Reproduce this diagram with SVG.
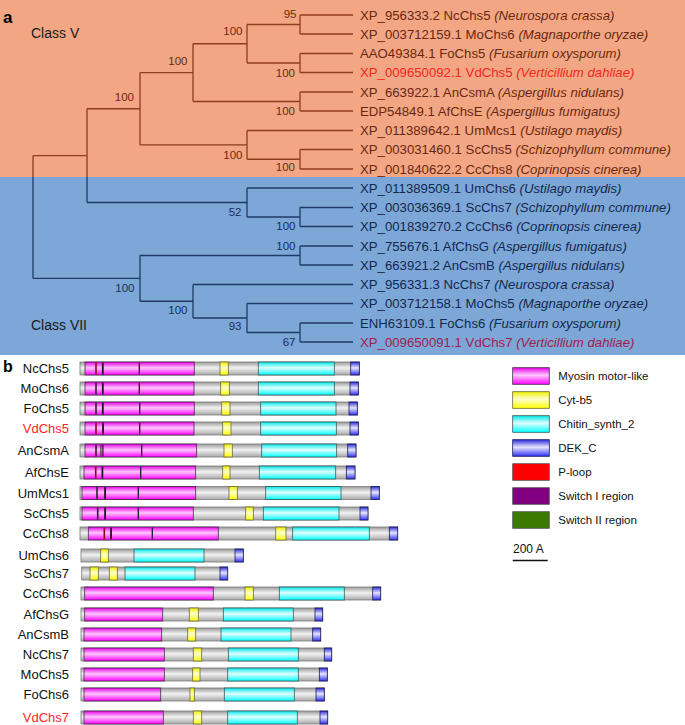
<svg xmlns="http://www.w3.org/2000/svg" width="685" height="725" viewBox="0 0 685 725">
<style>
text{font-family:"Liberation Sans",Arial,sans-serif}
.lo{fill:none;stroke:#8E3D1F;stroke-width:1.3}
.lb{fill:none;stroke:#1F3B6B;stroke-width:1.3}
.leafo{font-size:13.2px;fill:#6B2810}
.leafb{font-size:13.2px;fill:#14284F}
.bso{font-size:11.5px;fill:#6B2A12;text-anchor:end}
.bsb{font-size:11.5px;fill:#1A2E55;text-anchor:end}
.cls{font-size:14px;fill:#1a1a1a}
.pl{font-weight:bold;fill:#000}
.rl{font-size:13px;fill:#111;text-anchor:end}
.red{fill:#FF1E1E}
.g{fill:url(#gg);stroke:#7a7a7a;stroke-width:0.8}
.m{fill:url(#gm);stroke:#4a2a4a;stroke-width:0.8}
.y{fill:url(#gy);stroke:#6a6a30;stroke-width:0.8}
.c{fill:url(#gc);stroke:#3a5a5a;stroke-width:0.8}
.b{fill:url(#gb);stroke:#1a1a5a;stroke-width:0.8}
.s1{fill:#8A0A1E}
.s2{fill:#2A0A2A}
.s3{fill:#3A1A3A}
.lt{font-size:11.5px;fill:#111}
</style>
<defs>
<linearGradient id="gg" x1="0" y1="0" x2="0" y2="1"><stop offset="0" stop-color="#9a9a9a"/><stop offset="0.45" stop-color="#f2f2f2"/><stop offset="1" stop-color="#a8a8a8"/></linearGradient>
<linearGradient id="gm" x1="0" y1="0" x2="0" y2="1"><stop offset="0" stop-color="#e800e8"/><stop offset="0.45" stop-color="#ffc8ff"/><stop offset="1" stop-color="#ff00ff"/></linearGradient>
<linearGradient id="gy" x1="0" y1="0" x2="0" y2="1"><stop offset="0" stop-color="#f0f000"/><stop offset="0.45" stop-color="#ffffd0"/><stop offset="1" stop-color="#ffff00"/></linearGradient>
<linearGradient id="gc" x1="0" y1="0" x2="0" y2="1"><stop offset="0" stop-color="#00e8e8"/><stop offset="0.45" stop-color="#e0ffff"/><stop offset="1" stop-color="#00ffff"/></linearGradient>
<linearGradient id="gb" x1="0" y1="0" x2="0" y2="1"><stop offset="0" stop-color="#2a2ad8"/><stop offset="0.45" stop-color="#e6e6ff"/><stop offset="1" stop-color="#3030f0"/></linearGradient>
</defs>
<rect x="0" y="0" width="685" height="725" fill="#fff"/>
<rect x="0" y="0" width="685" height="177" fill="#F2A683"/>
<rect x="0" y="177" width="685" height="178" fill="#7CA7D7"/>
<text x="3" y="22.5" class="pl" font-size="17">a</text>
<text x="31" y="37.5" class="cls">Class V</text>
<text x="31" y="329.5" class="cls">Class VII</text>
<g id="connectors">
<path class="lo" d="M300,15V34M300,15H353M300,34H353M300,53.5V72.5M300,53.5H353M300,72.5H353M247,24.5V63M247,24.5H300M247,63H300M300,92V111M300,92H353M300,111H353M193,43.75V101.5M193,43.75H247M193,101.5H300M300,149.5V169M300,149.5H353M300,169H353M247,130.5V159.25M247,130.5H353M247,159.25H300M140,72.6V144.9M140,72.6H193M140,144.9H247M87,108.75V177M87,108.75H140M33,155.6V177M33,155.6H87"/>
<path class="lb" d="M87,177V202.5M87,202.5H247M33,177V278.4M33,278.4H140M247,188V217M247,188H353M247,217H300M300,207.5V226.5M300,207.5H353M300,226.5H353M140,255.5V301.25M140,255.5H300M140,301.25H193M300,246V265M300,246H353M300,265H353M193,284.5V318M193,284.5H353M193,318H247M247,303.5V332.5M247,303.5H353M247,332.5H300M300,323V342M300,323H353M300,342H353"/>
</g>
<g id="bootstrap">
<text class="bso" x="296.5" y="17.5">95</text>
<text class="bso" x="242.5" y="35">100</text>
<text class="bso" x="295" y="77">100</text>
<text class="bso" x="187.5" y="65">100</text>
<text class="bso" x="295" y="115">100</text>
<text class="bso" x="134" y="101">100</text>
<text class="bso" x="242.5" y="159">100</text>
<text class="bso" x="295" y="171">100</text>
<text class="bsb" x="241.5" y="216">52</text>
<text class="bsb" x="295.5" y="230">100</text>
<text class="bsb" x="295.5" y="250">100</text>
<text class="bsb" x="134.5" y="292">100</text>
<text class="bsb" x="187.5" y="314">100</text>
<text class="bsb" x="241.5" y="330">93</text>
<text class="bsb" x="295.5" y="346">67</text>
</g>
<g id="leaf-NcChs5"><text class="leafo" x="360" y="19.5">XP_956333.2 NcChs5 <tspan font-style="italic">(Neurospora crassa)</tspan></text></g>
<g id="leaf-MoChs6"><text class="leafo" x="360" y="38.5">XP_003712159.1 MoChs6 <tspan font-style="italic">(Magnaporthe oryzae)</tspan></text></g>
<g id="leaf-FoChs5"><text class="leafo" x="360" y="58">AAO49384.1 FoChs5 <tspan font-style="italic">(Fusarium oxysporum)</tspan></text></g>
<g id="leaf-VdChs5"><text class="leafo" x="360" y="77" style="fill:#F2281E">XP_009650092.1 VdChs5 <tspan font-style="italic">(Verticillium dahliae)</tspan></text></g>
<g id="leaf-AnCsmA"><text class="leafo" x="360" y="96.5">XP_663922.1 AnCsmA <tspan font-style="italic">(Aspergillus nidulans)</tspan></text></g>
<g id="leaf-AfChsE"><text class="leafo" x="360" y="115.5">EDP54849.1 AfChsE <tspan font-style="italic">(Aspergillus fumigatus)</tspan></text></g>
<g id="leaf-UmMcs1"><text class="leafo" x="360" y="135">XP_011389642.1 UmMcs1 <tspan font-style="italic">(Ustilago maydis)</tspan></text></g>
<g id="leaf-ScChs5"><text class="leafo" x="360" y="154">XP_003031460.1 ScChs5 <tspan font-style="italic">(Schizophyllum commune)</tspan></text></g>
<g id="leaf-CcChs8"><text class="leafo" x="360" y="173.5">XP_001840622.2 CcChs8 <tspan font-style="italic">(Coprinopsis cinerea)</tspan></text></g>
<g id="leaf-UmChs6"><text class="leafb" x="360" y="192.5">XP_011389509.1 UmChs6 <tspan font-style="italic">(Ustilago maydis)</tspan></text></g>
<g id="leaf-ScChs7"><text class="leafb" x="360" y="212">XP_003036369.1 ScChs7 <tspan font-style="italic">(Schizophyllum commune)</tspan></text></g>
<g id="leaf-CcChs6"><text class="leafb" x="360" y="231">XP_001839270.2 CcChs6 <tspan font-style="italic">(Coprinopsis cinerea)</tspan></text></g>
<g id="leaf-AfChsG"><text class="leafb" x="360" y="250.5">XP_755676.1 AfChsG <tspan font-style="italic">(Aspergillus fumigatus)</tspan></text></g>
<g id="leaf-AnCsmB"><text class="leafb" x="360" y="269.5">XP_663921.2 AnCsmB <tspan font-style="italic">(Aspergillus nidulans)</tspan></text></g>
<g id="leaf-NcChs7"><text class="leafb" x="360" y="289">XP_956331.3 NcChs7 <tspan font-style="italic">(Neurospora crassa)</tspan></text></g>
<g id="leaf-MoChs5"><text class="leafb" x="360" y="308">XP_003712158.1 MoChs5 <tspan font-style="italic">(Magnaporthe oryzae)</tspan></text></g>
<g id="leaf-FoChs6"><text class="leafb" x="360" y="327.5">ENH63109.1 FoChs6 <tspan font-style="italic">(Fusarium oxysporum)</tspan></text></g>
<g id="leaf-VdChs7"><text class="leafb" x="360" y="346.5" style="fill:#A01E50">XP_009650091.1 VdChs7 <tspan font-style="italic">(Verticillium dahliae)</tspan></text></g>

<text x="3" y="371.7" class="pl" font-size="16">b</text>

<g id="row-NcChs5"><text class="rl" x="69" y="373">NcChs5</text>
<rect class="g" x="80" y="362" width="279.3" height="13"/><rect class="m" x="85" y="362" width="109.3" height="13"/><rect class="y" x="220" y="362" width="8.3" height="13"/><rect class="c" x="258.3" y="362" width="76" height="13"/><rect class="b" x="350.7" y="362" width="8.6" height="13"/>
<rect class="s1" x="95.2" y="362.5" width="1.6" height="12"/><rect class="s2" x="101.9" y="362.5" width="1.8" height="12"/><rect class="s3" x="138.6" y="362.5" width="1.4" height="12"/></g>
<g id="row-MoChs6"><text class="rl" x="69" y="393">MoChs6</text>
<rect class="g" x="80" y="382" width="278.3" height="13"/><rect class="m" x="85" y="382" width="109" height="13"/><rect class="y" x="220.7" y="382" width="8.6" height="13"/><rect class="c" x="258.3" y="382" width="76" height="13"/><rect class="b" x="350" y="382" width="8.3" height="13"/>
<rect class="s3" x="95.2" y="382.5" width="1.6" height="12"/><rect class="s2" x="101.9" y="382.5" width="1.8" height="12"/><rect class="s3" x="138.6" y="382.5" width="1.4" height="12"/></g>
<g id="row-FoChs5"><text class="rl" x="69" y="413">FoChs5</text>
<rect class="g" x="80" y="402" width="277.3" height="13"/><rect class="m" x="85" y="402" width="109.3" height="13"/><rect class="y" x="221.7" y="402" width="8.3" height="13"/><rect class="c" x="260.7" y="402" width="75.3" height="13"/><rect class="b" x="349" y="402" width="8.3" height="13"/>
<rect class="s3" x="95.2" y="402.5" width="1.6" height="12"/><rect class="s2" x="101.9" y="402.5" width="1.8" height="12"/><rect class="s3" x="139" y="402.5" width="1.4" height="12"/></g>
<g id="row-VdChs5"><text class="rl red" x="69" y="433">VdChs5</text>
<rect class="g" x="80" y="422" width="278.3" height="13"/><rect class="m" x="85" y="422" width="109" height="13"/><rect class="y" x="222.7" y="422" width="8.3" height="13"/><rect class="c" x="260.7" y="422" width="75.6" height="13"/><rect class="b" x="350" y="422" width="8.3" height="13"/>
<rect class="s1" x="95.2" y="422.5" width="1.6" height="12"/><rect class="s2" x="102.1" y="422.5" width="1.8" height="12"/><rect class="s3" x="139" y="422.5" width="1.4" height="12"/></g>
<g id="row-AnCsmA"><text class="rl" x="69" y="455">AnCsmA</text>
<rect class="g" x="80" y="444" width="276" height="13"/><rect class="m" x="85" y="444" width="111.7" height="13"/><rect class="y" x="224" y="444" width="8.3" height="13"/><rect class="c" x="261.7" y="444" width="75" height="13"/><rect class="b" x="347.7" y="444" width="8.3" height="13"/>
<rect class="s3" x="95.2" y="444.5" width="1.6" height="12"/><rect class="s3" x="100.4" y="444.5" width="1" height="12"/><rect class="s2" x="102.3" y="444.5" width="1.2" height="12"/><rect class="s3" x="141" y="444.5" width="1.4" height="12"/></g>
<g id="row-AfChsE"><text class="rl" x="69" y="477">AfChsE</text>
<rect class="g" x="80" y="466" width="275" height="13"/><rect class="m" x="84" y="466" width="111.7" height="13"/><rect class="y" x="222.7" y="466" width="7.3" height="13"/><rect class="c" x="259.3" y="466" width="76.4" height="13"/><rect class="b" x="346.3" y="466" width="8.7" height="13"/>
<rect class="s1" x="94.9" y="466.5" width="1.6" height="12"/><rect class="s2" x="101.5" y="466.5" width="1.8" height="12"/><rect class="s3" x="140" y="466.5" width="1.4" height="12"/></g>
<g id="row-UmMcs1"><text class="rl" x="69" y="497.5">UmMcs1</text>
<rect class="g" x="80" y="486.5" width="299.3" height="13"/><rect class="m" x="82" y="486.5" width="113.7" height="13"/><rect class="y" x="229" y="486.5" width="8.3" height="13"/><rect class="c" x="265.7" y="486.5" width="75.3" height="13"/><rect class="b" x="371" y="486.5" width="8.3" height="13"/>
<rect class="s3" x="96.2" y="487" width="1.6" height="12"/><rect class="s2" x="104.2" y="487" width="1.8" height="12"/><rect class="s3" x="137.6" y="487" width="1.4" height="12"/></g>
<g id="row-ScChs5"><text class="rl" x="69" y="518">ScChs5</text>
<rect class="g" x="80" y="507" width="288" height="13"/><rect class="m" x="82" y="507" width="111.3" height="13"/><rect class="y" x="245.7" y="507" width="7.6" height="13"/><rect class="c" x="263.3" y="507" width="75.7" height="13"/><rect class="b" x="360" y="507" width="8" height="13"/>
<rect class="s3" x="96.9" y="507.5" width="1.6" height="12"/><rect class="s2" x="104.2" y="507.5" width="1.8" height="12"/><rect class="s3" x="137.6" y="507.5" width="1.4" height="12"/></g>
<g id="row-CcChs8"><text class="rl" x="69" y="538">CcChs8</text>
<rect class="g" x="80" y="527" width="317.7" height="13"/><rect class="m" x="88.3" y="527" width="130" height="13"/><rect class="y" x="275.7" y="527" width="10.3" height="13"/><rect class="c" x="292.7" y="527" width="76.6" height="13"/><rect class="b" x="389.3" y="527" width="8.4" height="13"/>
<rect class="s1" x="103.5" y="527.5" width="1.6" height="12"/><rect class="s2" x="110.1" y="527.5" width="1.8" height="12"/><rect class="s3" x="151.6" y="527.5" width="1.4" height="12"/></g>
<g id="row-UmChs6"><text class="rl" x="69" y="560">UmChs6</text>
<rect class="g" x="81" y="549" width="162.3" height="13"/><rect class="y" x="100.7" y="549" width="7.6" height="13"/><rect class="c" x="134" y="549" width="70" height="13"/><rect class="b" x="235" y="549" width="8.3" height="13"/></g>
<g id="row-ScChs7"><text class="rl" x="69" y="578">ScChs7</text>
<rect class="g" x="81.7" y="567" width="146" height="13"/><rect class="y" x="90" y="567" width="8.3" height="13"/><rect class="y" x="109.3" y="567" width="8" height="13"/><rect class="c" x="125" y="567" width="70" height="13"/><rect class="b" x="220" y="567" width="7.7" height="13"/></g>
<g id="row-CcChs6"><text class="rl" x="69" y="598">CcChs6</text>
<rect class="g" x="81" y="587" width="299.7" height="13"/><rect class="m" x="84.7" y="587" width="128.6" height="13"/><rect class="y" x="245" y="587" width="8.3" height="13"/><rect class="c" x="279.3" y="587" width="65" height="13"/><rect class="b" x="372.7" y="587" width="8" height="13"/></g>
<g id="row-AfChsG"><text class="rl" x="69" y="619">AfChsG</text>
<rect class="g" x="81" y="608" width="241.7" height="13"/><rect class="m" x="84.7" y="608" width="78" height="13"/><rect class="y" x="189.3" y="608" width="9" height="13"/><rect class="c" x="223.3" y="608" width="70" height="13"/><rect class="b" x="315" y="608" width="7.7" height="13"/></g>
<g id="row-AnCsmB"><text class="rl" x="69" y="639">AnCsmB</text>
<rect class="g" x="81" y="628" width="239.7" height="13"/><rect class="m" x="84" y="628" width="77.7" height="13"/><rect class="y" x="187.7" y="628" width="8" height="13"/><rect class="c" x="221" y="628" width="70" height="13"/><rect class="b" x="312.7" y="628" width="8" height="13"/></g>
<g id="row-NcChs7"><text class="rl" x="69" y="659">NcChs7</text>
<rect class="g" x="81" y="648" width="250.7" height="13"/><rect class="m" x="84" y="648" width="80.3" height="13"/><rect class="y" x="193.3" y="648" width="8.4" height="13"/><rect class="c" x="228.3" y="648" width="70" height="13"/><rect class="b" x="324.3" y="648" width="7.4" height="13"/></g>
<g id="row-MoChs5"><text class="rl" x="69" y="679">MoChs5</text>
<rect class="g" x="81" y="668" width="246.3" height="13"/><rect class="m" x="84" y="668" width="80.3" height="13"/><rect class="y" x="192.7" y="668" width="7.3" height="13"/><rect class="c" x="227.7" y="668" width="70.6" height="13"/><rect class="b" x="319.3" y="668" width="8" height="13"/></g>
<g id="row-FoChs6"><text class="rl" x="69" y="699">FoChs6</text>
<rect class="g" x="81" y="688" width="243.3" height="13"/><rect class="m" x="84" y="688" width="76.7" height="13"/><rect class="y" x="190" y="688" width="4.3" height="13"/><rect class="c" x="224.3" y="688" width="70" height="13"/><rect class="b" x="316" y="688" width="8.3" height="13"/></g>
<g id="row-VdChs7"><text class="rl red" x="69" y="722">VdChs7</text>
<rect class="g" x="81" y="711" width="246.7" height="13"/><rect class="m" x="84" y="711" width="79.3" height="13"/><rect class="y" x="193.3" y="711" width="8.4" height="13"/><rect class="c" x="227.7" y="711" width="69.6" height="13"/><rect class="b" x="320" y="711" width="7.7" height="13"/></g>

<g id="legend">
<rect class="m" x="512.7" y="367.7" width="36.6" height="16.6"/><text class="lt" x="558.3" y="380">Myosin motor-like</text>
<rect class="y" x="512.7" y="391.7" width="36.6" height="16.6"/><text class="lt" x="558.3" y="404">Cyt-b5</text>
<rect class="c" x="512.7" y="415.7" width="36.6" height="16.6"/><text class="lt" x="558.3" y="428">Chitin_synth_2</text>
<rect class="b" x="512.7" y="439.7" width="36.6" height="16.6"/><text class="lt" x="558.3" y="452">DEK_C</text>
<rect x="512.7" y="463.7" width="36.6" height="16.6" fill="#FF0000" stroke="#555" stroke-width="0.8"/><text class="lt" x="558.3" y="476">P-loop</text>
<rect x="512.7" y="487.7" width="36.6" height="16.6" fill="#800080" stroke="#555" stroke-width="0.8"/><text class="lt" x="558.3" y="500">Switch I region</text>
<rect x="512.7" y="511.7" width="36.6" height="16.6" fill="#3A7A00" stroke="#555" stroke-width="0.8"/><text class="lt" x="558.3" y="524">Switch II region</text>
<text x="513" y="552.5" font-size="12" fill="#111">200 A</text>
<line x1="512.7" y1="560.5" x2="547.7" y2="560.5" stroke="#111" stroke-width="1.5"/>
</g>
</svg>
